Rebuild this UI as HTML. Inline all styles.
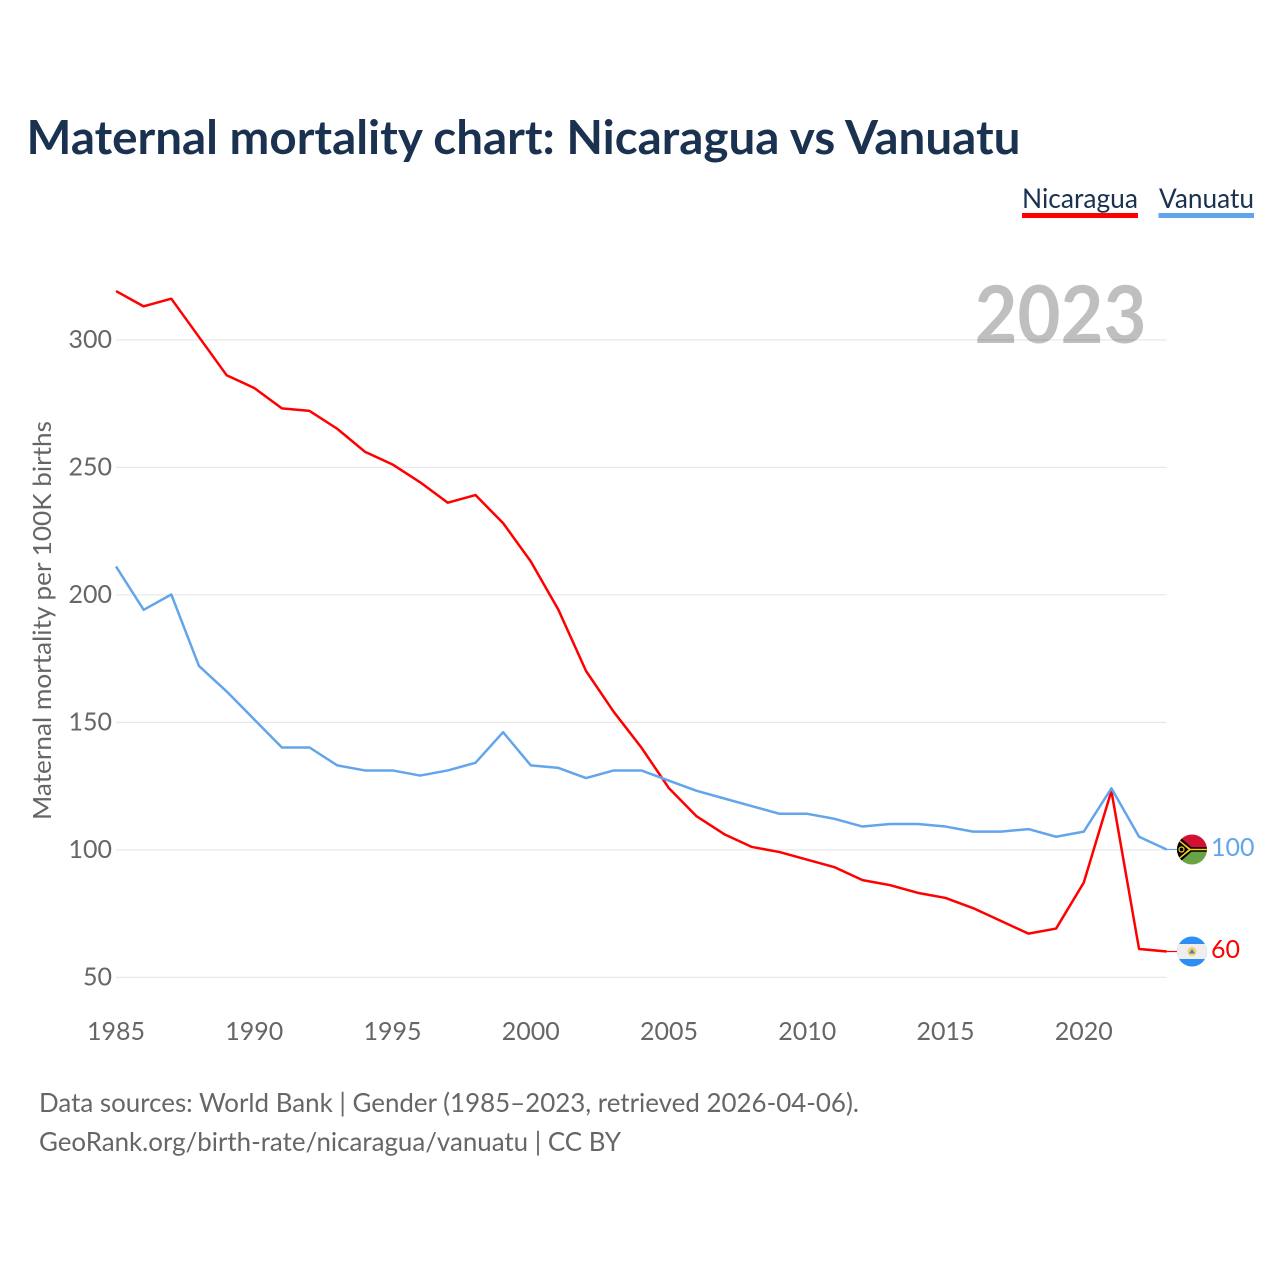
<!DOCTYPE html>
<html lang="en">
<head>
<meta charset="utf-8">
<title>Maternal mortality chart: Nicaragua vs Vanuatu</title>
<style>
html,body{margin:0;padding:0;background:#fff;}
svg{display:block;}
text{font-family:Lato,Carlito,"Liberation Sans",sans-serif;}
</style>
</head>
<body>
<svg id="chart" xmlns="http://www.w3.org/2000/svg" width="1280" height="1280" viewBox="0 0 1280 1280">
  <defs>
    <clipPath id="flag-clip"><circle cx="0" cy="0" r="15"></circle></clipPath>
  </defs>
  <text x="26.500" y="154" font-size="47" font-weight="700" fill="#1a3150" textLength="994" lengthAdjust="spacingAndGlyphs">Maternal mortality chart: Nicaragua vs Vanuatu</text>

  <g>
    <g>
      <text x="1022" y="208" font-size="27" fill="#1a3150" textLength="116" lengthAdjust="spacingAndGlyphs">Nicaragua</text>
      <rect x="1022" y="213" width="116" height="5" fill="#ff0000"></rect>
    </g>
    <g>
      <text x="1159" y="208" font-size="27" fill="#1a3150" textLength="95" lengthAdjust="spacingAndGlyphs">Vanuatu</text>
      <rect x="1158.500" y="213" width="95.500" height="5" fill="#63a5ec"></rect>
    </g>
  </g>

  <g id="grid"></g>
  <text x="974.500" y="343" font-size="80" font-weight="700" fill="#000000" fill-opacity="0.25" textLength="172" lengthAdjust="spacingAndGlyphs">2023</text>
  <g id="y-ticks"></g>
  <g id="x-ticks"></g>
  <text transform="translate(51 820) rotate(-90)" x="0" y="0" font-size="25" fill="#666666" textLength="399" lengthAdjust="spacingAndGlyphs">Maternal mortality per 100K births</text>
  <g id="series"></g>

  <g id="flag-vanuatu">
    <g clip-path="url(#flag-clip)">
      <rect x="-15" y="-15" width="30" height="15" fill="#d21034"></rect>
      <rect x="-15" y="0" width="30" height="15" fill="#6aa343"></rect>
      <polygon points="-15,-15 -0.500,-2.200 15,-2.200 15,2.200 -0.500,2.200 -15,15" fill="#000000"></polygon>
      <polygon points="-15,-11.500 -1.500,-0.800 15,-0.800 15,0.800 -1.500,0.800 -15,11.500 -15,10 -3.500,0 -15,-10" fill="#fdce12"></polygon>
      <circle cx="-10.500" cy="0" r="2.500" fill="none" stroke="#fdce12" stroke-width="1.200"></circle>
    </g>
  </g>
  <g id="flag-nicaragua">
    <g clip-path="url(#flag-clip)">
      <rect x="-15" y="-15" width="30" height="30" fill="#2f8ef4"></rect>
      <rect x="-15" y="-7.500" width="30" height="15" fill="#eeeeee"></rect>
      <circle cx="0" cy="0" r="4.500" fill="#f5cf6a"></circle>
      <polygon points="0,-2.500 3,2 -3,2" fill="#4a7fb5"></polygon>
    </g>
  </g>

  <text x="39" y="1112" font-size="26" fill="#666666" textLength="820" lengthAdjust="spacingAndGlyphs">Data sources: World Bank | Gender (1985–2023, retrieved 2026-04-06).</text>
  <text x="39" y="1151" font-size="26" fill="#666666" textLength="582" lengthAdjust="spacingAndGlyphs">GeoRank.org/birth-rate/nicaragua/vanuatu | CC BY</text>
</svg>
<script>
const years = [1985,1986,1987,1988,1989,1990,1991,1992,1993,1994,1995,1996,1997,1998,1999,2000,2001,2002,2003,2004,2005,2006,2007,2008,2009,2010,2011,2012,2013,2014,2015,2016,2017,2018,2019,2020,2021,2022,2023];
const nicaraguaValues = [319,313,316,301,286,281,273,272,265,256,251,244,236,239,228,213,194,170,154,140,124,113,106,101,99,96,93,88,86,83,81,77,72,67,69,87,123,61,60];
const vanuatuValues = [211,194,200,172,162,151,140,140,133,131,131,129,131,134,146,133,132,128,131,131,127,123,120,117,114,114,112,109,110,110,109,107,107,108,105,107,124,105,100];
const yTickValues = [50,100,150,200,250,300];
const xTickValues = [1985,1990,1995,2000,2005,2010,2015,2020];

const NS = 'http://www.w3.org/2000/svg';
const xScale = function (year) { return 116 + (year - 1985) * 27.65; };
const yScale = function (value) { return 977 - (value - 50) * 2.55; };
const svgRoot = document.getElementById('chart');
const gridGroup = document.getElementById('grid');
const yTickGroup = document.getElementById('y-ticks');
const xTickGroup = document.getElementById('x-ticks');
const seriesGroup = document.getElementById('series');

yTickValues.forEach(function (tick) {
  const gridline = document.createElementNS(NS, 'line');
  gridline.setAttribute('x1', 116);
  gridline.setAttribute('x2', xScale(2023));
  gridline.setAttribute('y1', yScale(tick) + 0.4);
  gridline.setAttribute('y2', yScale(tick) + 0.4);
  gridline.setAttribute('stroke', '#e8e8e8');
  gridline.setAttribute('stroke-width', '1.2');
  
  
  gridGroup.appendChild(gridline);

  const label = document.createElementNS(NS, 'text');
  label.setAttribute('x', 112);
  label.setAttribute('y', yScale(tick) + 8.5);
  label.setAttribute('text-anchor', 'end');
  label.setAttribute('font-size', '25');
  label.setAttribute('fill', '#666666');
  
  
  label.textContent = tick;
  yTickGroup.appendChild(label);
});

xTickValues.forEach(function (tick) {
  const label = document.createElementNS(NS, 'text');
  label.setAttribute('x', xScale(tick));
  label.setAttribute('y', 1040);
  label.setAttribute('text-anchor', 'middle');
  label.setAttribute('font-size', '25');
  label.setAttribute('fill', '#666666');
  
  
  label.textContent = tick;
  xTickGroup.appendChild(label);
});

function drawSeries(values, color, key, flagId, labelOffset, labelX) {
  const points = values.map(function (value, i) {
    return xScale(years[i]).toFixed(2) + ',' + yScale(value).toFixed(2);
  }).join(' ');
  const line = document.createElementNS(NS, 'polyline');
  line.setAttribute('points', points);
  line.setAttribute('fill', 'none');
  line.setAttribute('stroke', color);
  line.setAttribute('stroke-width', '2.5');
  line.setAttribute('stroke-linejoin', 'round');
  
  
  seriesGroup.appendChild(line);

  const last = values[values.length - 1];
  const connector = document.createElementNS(NS, 'line');
  connector.setAttribute('x1', xScale(years[years.length - 1]));
  connector.setAttribute('x2', 1178);
  connector.setAttribute('y1', yScale(last));
  connector.setAttribute('y2', yScale(last));
  connector.setAttribute('stroke', color);
  connector.setAttribute('stroke-width', '1.2');
  
  
  seriesGroup.appendChild(connector);

  const flag = document.getElementById(flagId);
  flag.setAttribute('transform', 'translate(1192 ' + yScale(last).toFixed(2) + ')');

  const endLabel = document.createElementNS(NS, 'text');
  endLabel.setAttribute('x', labelX);
  endLabel.setAttribute('y', yScale(last) + labelOffset);
  endLabel.setAttribute('font-size', '25');
  endLabel.setAttribute('fill', color);
  
  
  endLabel.textContent = last;
  svgRoot.appendChild(endLabel);
}

drawSeries(nicaraguaValues, '#ff0000', 'nicaragua', 'flag-nicaragua', 6.5, 1211);
drawSeries(vanuatuValues, '#63a5ec', 'vanuatu', 'flag-vanuatu', 6.5, 1211);
</script>
</body>
</html>
